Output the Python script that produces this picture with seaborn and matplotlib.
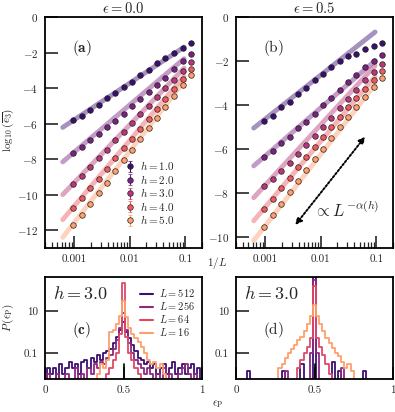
import matplotlib
matplotlib.use("Agg")
import matplotlib.pyplot as plt
from matplotlib.lines import Line2D
import numpy as np
import pandas as pd
import seaborn as sns

# system sizes and disorder strengths
L_SIZES = [8, 11, 16, 23, 32, 45, 64, 91, 128, 181, 256, 362, 512, 724, 1024]
H_VALUES = [1.0, 2.0, 3.0, 4.0, 5.0]

# log10(e3) at eps = 0.0, one list per h (L ascending)
e3_eps00_h1 = [-1.45, -1.75, -2.01, -2.33, -2.61, -2.99, -3.27, -3.66, -3.92, -4.30, -4.56, -4.94, -5.22, -5.56, -5.82]
e3_eps00_h2 = [-2.07, -2.50, -2.93, -3.42, -3.81, -4.23, -4.64, -5.03, -5.45, -5.86, -6.20, -6.59, -6.93, -7.31, -7.68]
e3_eps00_h3 = [-2.54, -3.03, -3.52, -4.01, -4.50, -4.99, -5.47, -5.96, -6.45, -6.94, -7.46, -7.95, -8.44, -8.93, -9.42]
e3_eps00_h4 = [-2.95, -3.51, -4.06, -4.62, -5.17, -5.73, -6.28, -6.84, -7.39, -7.95, -8.54, -9.09, -9.65, -10.20, -10.76]
e3_eps00_h5 = [-3.25, -3.85, -4.46, -5.06, -5.66, -6.27, -6.87, -7.47, -8.07, -8.68, -9.32, -9.92, -10.53, -11.13, -11.73]

# log10(e3) at eps = 0.5
e3_eps05_h1 = [-1.17, -1.32, -1.47, -1.67, -1.79, -2.02, -2.27, -2.61, -2.88, -3.23, -3.52, -3.86, -4.09, -4.48, -4.73]
e3_eps05_h2 = [-1.71, -2.02, -2.27, -2.65, -2.95, -3.30, -3.68, -4.02, -4.39, -4.77, -5.03, -5.44, -5.71, -6.08, -6.35]
e3_eps05_h3 = [-2.12, -2.48, -2.88, -3.30, -3.72, -4.15, -4.58, -5.00, -5.42, -5.83, -6.24, -6.62, -7.00, -7.38, -7.68]
e3_eps05_h4 = [-2.47, -2.86, -3.26, -3.68, -4.11, -4.55, -5.00, -5.45, -5.90, -6.36, -6.84, -7.30, -7.78, -8.26, -8.74]
e3_eps05_h5 = [-2.77, -3.20, -3.64, -4.09, -4.55, -5.02, -5.50, -5.98, -6.46, -6.95, -7.46, -7.97, -8.49, -9.02, -9.56]

# power-law fits  log10(e3) = c + alpha * log10(1/L)
fit_alpha_eps00 = [2.07, 2.66, 3.26, 3.70, 4.02]
fit_c_eps00 = [0.42, 0.37, 0.45, 0.45, 0.48]
fit_alpha_eps05 = [2.00, 2.19, 2.75, 3.00, 3.25]
fit_c_eps05 = [1.36, 0.25, 0.60, 0.35, 0.25]
FIT_L_RANGE = [1600, 10.5]

# histograms of eps_P at h = 3.0, bin centres 0, 0.02, ..., 1.0
HIST_L = [512, 256, 64, 16]
hist_c_512 = [0, 0.02, 0.01, 0.02, 0, 0.03, 0.01, 0.02, 0.04, 0.02, 0.03, 0.01, 0.04, 0.05, 0.02, 0.06, 0.04,
              0.08, 0.05, 0.1, 0.12, 0.15, 0.3, 0.6, 1.2, 3.0, 1.0, 0.5, 0.25, 0.12, 0.06, 0.05, 0.03, 0.04,
              0.02, 0.03, 0.01, 0.02, 0.03, 0.01, 0.02, 0.04, 0.01, 0.02, 0.03, 0.01, 0.02, 0.03, 0.01, 0.02, 0]
hist_c_256 = [0, 0.01, 0, 0, 0.01, 0, 0, 0.01, 0, 0, 0.02, 0, 0.01, 0, 0.02, 0.01, 0.03,
              0.02, 0.04, 0.03, 0.06, 0.08, 0.15, 0.4, 1.5, 8.0, 1.2, 0.3, 0.1, 0.05, 0.03, 0.02, 0.01, 0.02,
              0.01, 0, 0.01, 0, 0.02, 0, 0.01, 0, 0, 0.01, 0.02, 0.03, 0.01, 0, 0.01, 0, 0]
hist_c_64 = [0, 0, 0, 0, 0, 0, 0, 0, 0, 0, 0, 0, 0, 0, 0, 0, 0,
             0, 0, 0, 0.01, 0.02, 0.05, 0.1, 0.8, 200.0, 0.6, 0.1, 0.05, 0.02, 0.01, 0, 0, 0,
             0, 0, 0, 0, 0, 0, 0, 0, 0, 0, 0, 0, 0, 0, 0, 0, 0]
hist_c_16 = [0, 0, 0, 0, 0, 0, 0, 0, 0, 0, 0, 0, 0, 0, 0, 0, 0,
             0.01, 0.03, 0.02, 0.05, 1.0, 1.3, 2.5, 6.0, 30.0, 5.0, 1.5, 0.8, 0.5, 0.35, 0.2, 0.1, 0.05,
             0.03, 0.04, 0.02, 0.03, 0.01, 0, 0, 0, 0, 0, 0, 0, 0, 0, 0, 0, 0]

hist_d_512 = [0, 0, 0, 0, 0.015, 0, 0, 0, 0, 0, 0, 0, 0, 0, 0, 0.015, 0,
              0, 0, 0, 0, 0.03, 0, 0, 0, 400.0, 0, 0, 0, 0, 0, 0.04, 0, 0.015,
              0, 0, 0, 0, 0, 0, 0, 0.015, 0, 0, 0, 0, 0, 0, 0, 0, 0]
hist_d_256 = [0, 0, 0, 0, 0, 0, 0, 0, 0, 0, 0, 0, 0, 0, 0, 0, 0.015,
              0, 0, 0, 0, 0, 0, 0, 0.1, 300.0, 0.1, 0, 0, 0, 0, 0, 0, 0,
              0.02, 0, 0, 0, 0, 0, 0, 0, 0, 0, 0, 0, 0, 0, 0, 0, 0]
hist_d_64 = [0, 0, 0, 0, 0, 0, 0, 0, 0, 0, 0, 0, 0, 0, 0, 0, 0,
             0, 0, 0, 0.02, 0.05, 0.1, 0.2, 0.5, 150.0, 0.5, 0.2, 0.08, 0.03, 0.01, 0, 0, 0,
             0, 0, 0, 0, 0, 0, 0, 0, 0, 0, 0, 0, 0, 0, 0, 0, 0]
hist_d_16 = [0, 0, 0, 0, 0, 0, 0, 0, 0, 0, 0, 0, 0, 0, 0.02, 0.03, 0.06,
             0.1, 0.15, 0.25, 0.4, 0.6, 1.1, 2.5, 6.0, 18.0, 6.0, 2.5, 1.1, 0.5, 0.3, 0.18, 0.1, 0.07,
             0.04, 0.02, 0.03, 0.015, 0, 0, 0, 0, 0, 0, 0, 0, 0, 0, 0, 0, 0]

sns.set_style("ticks")
plt.rcParams.update({
    "font.family": "serif",
    "font.serif": ["cmr10", "DejaVu Serif"],
    "mathtext.fontset": "cm",
    "axes.formatter.use_mathtext": True,
    "axes.linewidth": 1.3,
    "axes.edgecolor": "black",
})

magma = sns.color_palette("magma", as_cmap=True)
h_colors = [magma(v) for v in [0.2, 0.35, 0.5, 0.65, 0.8]]
hist_colors = [magma(v) for v in [0.2, 0.4, 0.6, 0.8]]

W, H = 395, 412
fig = plt.figure(figsize=(W / 100, H / 100), dpi=100)


def px_axes(x0, y0, x1, y1):
    return fig.add_axes([x0 / W, 1 - y1 / H, (x1 - x0) / W, (y1 - y0) / H])


ax_a = px_axes(45, 17, 202, 248)
ax_b = px_axes(236, 17, 393, 248)
ax_c = px_axes(45, 277, 202, 379)
ax_d = px_axes(236, 277, 393, 379)


def style_ticks(ax):
    ax.tick_params(which="major", direction="in", length=9, width=1.2, labelsize=8, pad=5,
                   top=False, right=False)
    ax.tick_params(which="minor", direction="in", length=4.5, width=0.9, top=False, right=False)


def scaling_panel(ax, series, alphas, cs, title, tag, ylim, yticks):
    x_pts = 1.0 / np.array(L_SIZES)
    x_fit = 1.0 / np.array(FIT_L_RANGE)
    for h, vals, a, c, col in zip(H_VALUES, series, alphas, cs, h_colors):
        sns.lineplot(x=x_fit, y=c + a * np.log10(x_fit), ax=ax, color=col, alpha=0.45,
                     lw=3.5, zorder=1, legend=False)
        ax.errorbar(x_pts, vals, yerr=0.08, fmt="o", ms=4, color=col, mec="#222222", mew=0.5,
                    ecolor=col, elinewidth=0.8, capsize=1.5, zorder=3, label=f"$h = {h:.1f}$")
    ax.set_xscale("log")
    ax.set_xlim(3e-4, 0.2)
    ax.set_ylim(*ylim)
    ax.set_yticks(yticks)
    ax.set_xticks([0.001, 0.01, 0.1])
    ax.set_xticklabels(["0.001", "0.01", "0.1"])
    ax.xaxis.set_minor_formatter(matplotlib.ticker.NullFormatter())
    ax.set_xlabel("")
    ax.set_ylabel("")
    ax.set_title(title, fontsize=10.5, pad=3)
    ax.text(0.17, 0.865, tag, transform=ax.transAxes, fontsize=11, va="center")
    style_ticks(ax)


scaling_panel(ax_a, [e3_eps00_h1, e3_eps00_h2, e3_eps00_h3, e3_eps00_h4, e3_eps00_h5],
              fit_alpha_eps00, fit_c_eps00, r"$\epsilon = 0.0$", r"$(\mathbf{a})$",
              (-13, 0), [0, -2, -4, -6, -8, -10, -12])
scaling_panel(ax_b, [e3_eps05_h1, e3_eps05_h2, e3_eps05_h3, e3_eps05_h4, e3_eps05_h5],
              fit_alpha_eps05, fit_c_eps05, r"$\epsilon = 0.5$", r"$(\mathrm{b})$",
              (-10.5, 0), [0, -2, -4, -6, -8, -10])

ax_a.legend(loc="lower left", bbox_to_anchor=(0.47, 0.07), frameon=False, fontsize=8,
            handlelength=1.0, handletextpad=0.4, labelspacing=0.05, borderpad=0)

ax_b.annotate("", xy=(0.063, -5.44), xytext=(0.0035, -9.45),
              arrowprops=dict(arrowstyle="<|-|>", linestyle=(0, (1, 1)), lw=1.4, color="k",
                              shrinkA=0, shrinkB=0, mutation_scale=9))
ax_b.text(0.0077, -8.77, r"$\propto L^{-\alpha(h)}$", fontsize=12, va="center")

centers = np.round(np.arange(51) * 0.02, 2)
edges = list(np.round(np.append(centers - 0.01, centers[-1] + 0.01), 3))


def hist_panel(ax, series, tag, legend):
    for L, vals, col in zip(HIST_L, series, hist_colors):
        df = pd.DataFrame({"eps_p": centers, "density": vals})
        sns.histplot(data=df, x="eps_p", weights="density", bins=edges, element="step",
                     fill=False, color=col, lw=1.3, ax=ax)
    ax.axvline(0.5, ymin=0, ymax=0.15, color="k", lw=1.2)
    ax.set_yscale("log")
    ax.set_xlim(0, 1)
    ax.set_ylim(0.006, 400)
    ax.set_yticks([0.1, 10])
    ax.set_yticklabels(["0.1", "10"])
    ax.yaxis.set_minor_locator(matplotlib.ticker.NullLocator())
    ax.set_xticks([0, 0.5, 1])
    ax.set_xticklabels(["0", "0.5", "1"])
    ax.set_xlabel("")
    ax.set_ylabel("")
    ax.text(0.05, 0.84, r"$h = 3.0$", transform=ax.transAxes, fontsize=13, va="center")
    ax.text(0.17, 0.48, tag, transform=ax.transAxes, fontsize=11, va="center")
    style_ticks(ax)
    if legend:
        handles = [Line2D([], [], color=col, lw=1.5) for col in hist_colors]
        ax.legend(handles, [f"$L = {L}$" for L in HIST_L], loc="upper right",
                  bbox_to_anchor=(1.0, 0.97), frameon=False, fontsize=7.5, handlelength=1.3,
                  handletextpad=0.5, labelspacing=0.1, borderpad=0.2)


hist_panel(ax_c, [hist_c_512, hist_c_256, hist_c_64, hist_c_16], r"$(\mathbf{c})$", True)
hist_panel(ax_d, [hist_d_512, hist_d_256, hist_d_64, hist_d_16], r"$(\mathrm{d})$", False)

fig.text(8 / W, 1 - 130 / H, r"$\log_{10}(\overline{e_3})$", rotation=90, fontsize=8,
         ha="center", va="center")
fig.text(8 / W, 1 - 318 / H, r"$P\,(\epsilon_{\rm P})$", rotation=90, fontsize=8,
         ha="center", va="center")
fig.text(217 / W, 1 - 263 / H, r"$1/L$", fontsize=8, ha="center", va="center")
fig.text(218 / W, 1 - 404 / H, r"$\epsilon_{\rm P}$", fontsize=8, ha="center", va="center")

fig.savefig("out.png", dpi=100)
